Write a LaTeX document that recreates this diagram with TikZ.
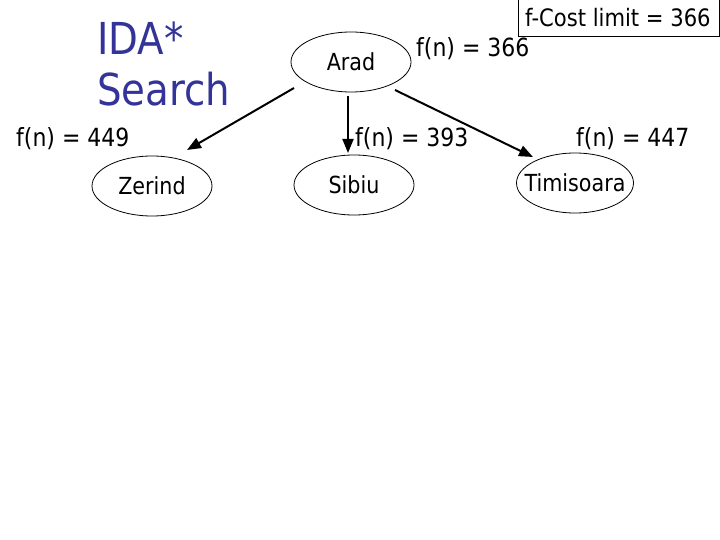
\documentclass[tikz,border=0pt]{standalone}
\usepackage{fontspec}
\setmainfont{DejaVu Sans}
\usetikzlibrary{shapes.geometric,arrows.meta}
\newcommand{\tah}[1]{\scalebox{0.88}[1]{#1}}
\definecolor{titleblue}{HTML}{333399}
\begin{document}
\begin{tikzpicture}[x=1pt,y=-1pt,
  city/.style={draw,ellipse,line width=0.8pt,minimum width=120pt,minimum height=60pt,inner sep=0pt,font=\fontsize{23.5}{27}\selectfont},
  lbl/.style={font=\fontsize{25}{29}\selectfont,inner sep=0pt,anchor=base west},
  ttl/.style={font=\fontsize{44}{50}\selectfont,text=titleblue,inner sep=0pt,anchor=base west},
  edge/.style={-{Triangle[length=14pt,width=11pt]},line width=2pt}]
\useasboundingbox (0,0) rectangle (720,540);
% title
\node[ttl] (t1) at (97,55) {\tah{IDA*}};
\node[ttl] (t2) at (97,106) {\tah{Search}};
% cost limit box
\draw[line width=0.8pt] (518,-2) rectangle (719,36);
\node[lbl,font=\fontsize{24}{28}\selectfont] (lim) at (525,27) {\tah{f-Cost limit = 366}};
% cities
\node[city] (arad) at (351,62) {\tah{Arad}};
\node[city] (zerind) at (152,186) {\tah{Zerind}};
\node[city] (sibiu) at (354,185) {\tah{Sibiu}};
\node[city,inner xsep=-10pt,minimum width=117pt] (timi) at (575,183) {\tah{Timisoara}};
% labels
\node[lbl] (f366) at (416,57) {\tah{f(n) = 366}};
\node[lbl] (f449) at (16,147) {\tah{f(n) = 449}};
\node[lbl] (f393) at (355,147) {\tah{f(n) = 393}};
\node[lbl] (f447) at (576,147) {\tah{f(n) = 447}};
% edges
\draw[edge] ([xshift=-57pt,yshift=-26pt]arad.center) -- ([xshift=35pt,yshift=36pt]zerind.center);
\draw[edge] ([xshift=-3pt,yshift=-34pt]arad.center) -- ([xshift=-6pt,yshift=32pt]sibiu.center);
\draw[edge] ([xshift=44pt,yshift=-28pt]arad.center) -- ([xshift=-42pt,yshift=26pt]timi.center);
\end{tikzpicture}
\end{document}
